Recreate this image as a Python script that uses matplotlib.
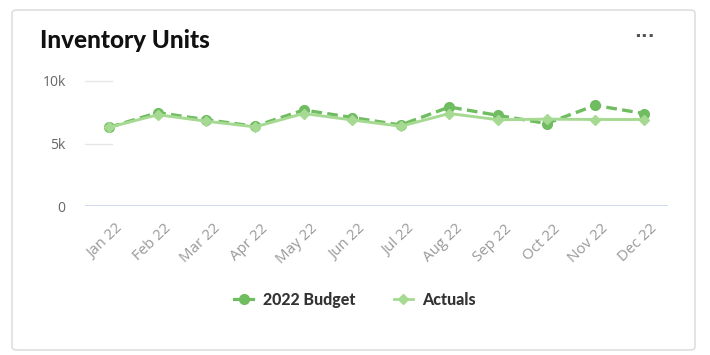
import matplotlib
matplotlib.use("Agg")
import matplotlib.pyplot as plt
import matplotlib.transforms as mtransforms
from matplotlib.patches import FancyBboxPatch
from matplotlib.lines import Line2D

months = ["Jan 22", "Feb 22", "Mar 22", "Apr 22", "May 22", "Jun 22",
          "Jul 22", "Aug 22", "Sep 22", "Oct 22", "Nov 22", "Dec 22"]
budget = [6300, 7470, 6900, 6380, 7680, 7080, 6480, 7920, 7250, 6600, 8050, 7400]
actuals = [6300, 7300, 6780, 6330, 7400, 6880, 6380, 7400, 6900, 6950, 6920, 6920]
yticks = [0, 5000, 10000]
ytick_labels = ["0", "5k", "10k"]

budget_color = "#6fbd60"
actual_color = "#a6da93"

fig = plt.figure(figsize=(7.1, 3.55), dpi=100)
fig.patch.set_facecolor("white")

# card
card = FancyBboxPatch((12 / 710, 1 - 350 / 355), (695 - 12) / 710, (350 - 10) / 355,
                      boxstyle="round,pad=0,rounding_size=0.008",
                      transform=fig.transFigure, facecolor="white",
                      edgecolor="#d9d9d9", linewidth=1.0, zorder=-10)
fig.patches.append(card)

ax = fig.add_axes([85 / 710, 1 - 206 / 355, (668 - 85) / 710, (206 - 81) / 355])
ax.set_zorder(5)
ax.set_facecolor("none")
x = list(range(len(months)))

ax.plot(x, budget, color=budget_color, lw=2.4, ls=(0, (3.2, 1.6)), marker="o",
        ms=7, mec=budget_color, mfc=budget_color, clip_on=False, zorder=3)
ax.plot(x, actuals, color=actual_color, lw=2.1, ls="-", marker="D",
        ms=5.5, mec=actual_color, mfc=actual_color, clip_on=False, zorder=4)

ax.set_xlim(-0.5, len(months) - 0.5)
ax.set_ylim(0, 10000)
for s in ax.spines.values():
    s.set_visible(False)

# grid lines: short at 5k/10k, full axis line at 0
for yv in yticks[1:]:
    ax.plot([0, 27 / 583], [yv / 10000, yv / 10000], transform=ax.transAxes,
            color="#e6e6e6", lw=1, clip_on=False, zorder=1)
ax.axhline(0, color="#c8d2ec", lw=1.2, zorder=1)

ax.set_yticks(yticks)
ax.set_yticklabels(ytick_labels)
ax.tick_params(axis="y", length=0, pad=14, labelsize=10, labelcolor="#666666")
ax.set_xticks(x)
ax.set_xticklabels(months, rotation=44, ha="right", rotation_mode="anchor")
ax.tick_params(axis="x", length=0, pad=11, labelsize=10.8, labelcolor="#999999")
offset = mtransforms.ScaledTranslation(6 / 100, 0, fig.dpi_scale_trans)
for lab in ax.get_xticklabels():
    lab.set_fontfamily("Open Sans")
    lab.set_transform(lab.get_transform() + offset)
for lab in ax.get_yticklabels():
    lab.set_fontfamily("Open Sans")

fig.text(40 / 710, 1 - 40 / 355, "Inventory Units", fontsize=17.5, fontweight="black",
         family="Lato", color="#111111", va="center", ha="left")
fig.text(644 / 710, 1 - 37 / 355, "···", fontsize=13, fontweight="bold",
         color="#555555", va="center", ha="center")

handles = [
    Line2D([0], [0], color=budget_color, lw=2.3, marker="o", ms=7),
    Line2D([0], [0], color=actual_color, lw=2.0, marker="D", ms=5.5),
]
leg = fig.legend(handles, ["2022 Budget", "Actuals"], loc="center",
                 bbox_to_anchor=(355 / 710, 1 - 300 / 355), ncol=2, frameon=False,
                 handlelength=1.2, handletextpad=0.6, columnspacing=2.4,
                 prop={"family": "Lato", "weight": "black", "size": 11.5})
for t in leg.get_texts():
    t.set_color("#333333")

fig.savefig("out.png", dpi=100, facecolor="white")
